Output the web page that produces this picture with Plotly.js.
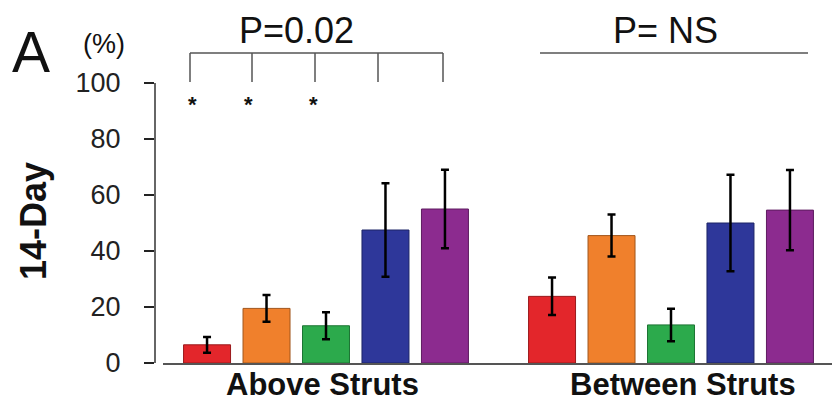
<!DOCTYPE html>
<html>
<head>
<meta charset="utf-8">
<script src="https://cdn.plot.ly/plotly-3.0.1.min.js"></script>
<style>html,body{margin:0;padding:0;background:#fff;}#chart{width:832px;height:401px;}</style>
</head>
<body>
<div id="chart"></div>
<script>
// ---- data ----
const categories = ["Above Struts", "Between Struts"];
const seriesNames = ["S1", "S2", "S3", "S4", "S5"];
const red    = [6.5, 23.8];
const orange = [19.5, 45.5];
const green  = [13.3, 13.6];
const blue   = [47.5, 50.0];
const purple = [55.0, 54.6];
const redErr    = [2.8, 6.7];
const orangeErr = [4.8, 7.5];
const greenErr  = [4.8, 5.8];
const blueErr   = [16.7, 17.2];
const purpleErr = [14.0, 14.3];
const yTickVals = [0, 20, 40, 60, 80, 100];
const pLabels = ["P=0.02", "P= NS"];

const values = [red, orange, green, blue, purple];
const errs = [redErr, orangeErr, greenErr, blueErr, purpleErr];
const fills = ["#e3262b", "#f0802c", "#2caa4c", "#2e379a", "#8c2b8f"];
const lines = ["#9a1a1c", "#a0561c", "#1c7433", "#1d2466", "#5e1c60"];

const FONT = "Arial, 'Liberation Sans', sans-serif";

const traces = values.map((v, i) => ({
  type: "bar",
  name: seriesNames[i],
  x: categories,
  y: v,
  marker: {color: fills[i], line: {color: lines[i], width: 1}},
  error_y: {type: "data", array: errs[i], visible: true, color: "#000", thickness: 2.5, width: 4},
  hoverinfo: "y"
}));

// helpers: pixel -> paper / axis units for decorations
const L = 155, T = 83, H = 280, W = 677;
const xd0 = 8 / W; // x domain start
const c0 = 326, pxPerCat = 345;
const xu = px => (px - c0) / pxPerCat;
const yu = py => (363 - py) / 2.8;
const xp = px => (px - L) / W;
const yp = py => (363 - py) / H;

const gray = "#555";
const shapes = [];
// left bracket
shapes.push({type: "line", xref: "paper", yref: "paper", x0: xp(190), x1: xp(443), y0: yp(53), y1: yp(53), line: {color: gray, width: 1.5}});
[190, 252, 315, 378, 443].forEach(px => shapes.push({type: "line", xref: "paper", yref: "paper", x0: xp(px), x1: xp(px), y0: yp(53), y1: yp(82), line: {color: gray, width: 1.5}}));
// right line
shapes.push({type: "line", xref: "paper", yref: "paper", x0: xp(540), x1: xp(808), y0: yp(53), y1: yp(53), line: {color: gray, width: 1.5}});

const ann = (text, px, py, size, extra) => Object.assign({
  text: text, xref: "paper", yref: "paper", x: xp(px), y: yp(py),
  xanchor: "center", yanchor: "middle", showarrow: false,
  font: {family: FONT, size: size, color: "#111"}
}, extra || {});

const annotations = [
  ann("A", 31, 52, 57),
  ann("(%)", 104, 44, 27),
  ann("<b>14-Day</b>", 33, 221, 36, {textangle: -90}),
  ann(pLabels[0], 296, 30, 36),
  ann(pLabels[1], 665, 30, 36),
  ann("<b>" + categories[0] + "</b>", 322, 384, 31, {height: 30}),
  ann("<b>" + categories[1] + "</b>", 683, 384, 31, {height: 30})
];
[192, 248, 313].forEach(px => annotations.push({text: "<b>*</b>", xref: "x", yref: "y", x: xu(px), y: yu(100), yshift: -4, xanchor: "center", yanchor: "middle", showarrow: false, font: {family: FONT, size: 22, color: "#111"}}));

const layout = {
  width: 832, height: 401,
  margin: {l: L, r: 0, t: T, b: 38},
  paper_bgcolor: "#fff", plot_bgcolor: "#fff",
  showlegend: false,
  barmode: "group",
  bargap: 0.138,
  bargroupgap: 0.21,
  xaxis: {
    type: "category",
    domain: [xd0, 1],
    range: [xu(163), xu(832)],
    showline: true, linecolor: gray, linewidth: 1.5,
    showticklabels: false, ticks: "", showgrid: false, zeroline: false, fixedrange: true
  },
  yaxis: {
    anchor: "free", position: 0,
    range: [0, 100],
    tickvals: yTickVals,
    ticks: "outside", ticklen: 10, tickwidth: 2, tickcolor: "#222",
    showline: true, linecolor: "#666", linewidth: 2,
    showgrid: false, zeroline: false,
    tickfont: {family: FONT, size: 27, color: "#222"},
    ticklabelstandoff: 18,
    fixedrange: true
  },
  shapes: shapes,
  annotations: annotations
};

Plotly.newPlot("chart", traces, layout, {displayModeBar: false, staticPlot: true});
</script>
</body>
</html>
